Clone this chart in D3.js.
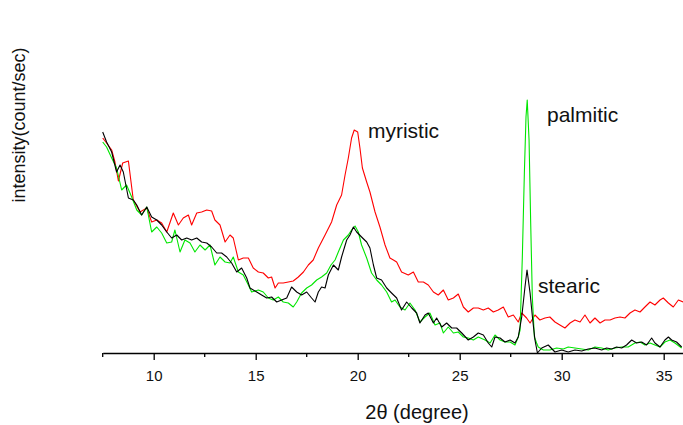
<!DOCTYPE html>
<html>
<meta charset="UTF-8">
    <head>
        <script src="https://d3js.org/d3.v7.min.js"></script>
        <style>
            body {
                margin: 0;
                background: white;
                font-family: Arial, "Liberation Sans", sans-serif;
            }
        </style>
    </head>
    <body>
    </body>
    <script>
        // 2theta (degree), intensity
        let myristic = [
            [7.50,215],[7.69,210],[7.94,203],[8.10,191],[8.27,172],[8.48,190],[8.76,192],[9.00,153],
            [9.33,141],[9.66,145],[9.90,131],[10.15,133],[10.39,130],[10.64,121],[10.96,140],[11.21,128],
            [11.45,135],[11.70,138],[11.86,128],[12.11,140],[12.35,141],[12.60,143],[12.84,142],[13.00,133],
            [13.25,128],[13.50,111],[13.74,118],[13.90,115],[14.15,93],[14.39,95],[14.64,95],[14.88,85],
            [15.13,81],[15.37,80],[15.62,75],[15.78,76],[15.95,65],[16.11,70],[16.35,70],[16.60,71],
            [16.84,72],[17.09,76],[17.34,81],[17.58,88],[17.82,93],[18.07,105],[18.40,118],[18.72,131],
            [18.97,148],[19.21,158],[19.38,178],[19.54,195],[19.70,215],[19.83,223],[20.00,221],[20.11,205],
            [20.23,185],[20.44,171],[20.60,161],[20.85,141],[21.09,126],[21.34,108],[21.58,95],[21.75,93],
            [21.91,91],[22.15,81],[22.48,78],[22.73,81],[22.97,71],[23.22,71],[23.46,68],[23.71,61],
            [23.95,58],[24.20,63],[24.44,53],[24.69,55],[24.93,59],[25.18,46],[25.42,41],[25.67,45],
            [25.91,45],[26.16,43],[26.40,45],[26.65,41],[26.89,43],[27.14,46],[27.38,36],[27.63,38],
            [27.87,31],[28.04,40],[28.28,35],[28.45,30],[28.69,38],[28.93,33],[29.18,35],[29.42,36],
            [29.67,31],[29.91,28],[30.16,25],[30.41,30],[30.65,33],[30.90,31],[31.14,38],[31.39,30],
            [31.63,35],[31.88,30],[32.12,33],[32.37,33],[32.61,35],[32.86,36],[33.10,35],[33.35,40],
            [33.59,43],[33.84,41],[34.08,46],[34.33,51],[34.57,48],[34.82,53],[34.98,55],[35.23,50],
            [35.47,46],[35.72,53],[35.95,51]
        ];

        let stearic = [
            [7.50,221],[7.69,211],[7.94,201],[8.18,181],[8.35,188],[8.51,181],[8.76,155],[9.00,153],
            [9.17,148],[9.41,138],[9.66,146],[9.90,136],[10.15,133],[10.39,128],[10.64,121],[10.88,115],
            [11.13,118],[11.37,113],[11.62,115],[11.86,113],[12.11,115],[12.35,111],[12.60,110],[12.84,106],
            [13.09,100],[13.33,100],[13.58,96],[13.82,90],[14.07,81],[14.31,85],[14.56,75],[14.72,65],
            [15.05,61],[15.29,58],[15.54,55],[15.78,56],[16.03,51],[16.27,53],[16.52,55],[16.76,66],
            [17.01,61],[17.25,58],[17.50,61],[17.74,55],[17.91,51],[18.07,61],[18.23,66],[18.40,65],
            [18.56,78],[18.81,88],[19.05,83],[19.21,96],[19.46,113],[19.62,118],[19.79,126],[19.95,121],
            [20.19,116],[20.44,111],[20.60,105],[20.77,88],[20.93,75],[21.17,73],[21.42,65],[21.66,60],
            [21.91,55],[22.15,43],[22.40,51],[22.65,45],[22.89,40],[23.05,30],[23.30,38],[23.46,40],
            [23.71,30],[23.87,35],[24.12,26],[24.36,30],[24.61,25],[24.85,25],[25.10,20],[25.42,13],
            [25.67,16],[25.91,20],[26.16,18],[26.40,10],[26.57,6],[26.73,16],[26.98,15],[27.22,11],
            [27.47,13],[27.71,10],[27.87,16],[28.04,36],[28.20,66],[28.30,83],[28.45,60],[28.58,33],
            [28.69,13],[28.81,0],[29.02,5],[29.34,8],[29.67,1],[30.00,3],[30.32,1],[30.65,3],
            [30.98,2],[31.30,4],[31.63,5],[31.96,3],[32.20,5],[32.45,4],[32.69,6],[32.94,5],
            [33.18,8],[33.43,13],[33.67,10],[33.92,11],[34.16,8],[34.41,15],[34.57,10],[34.82,6],
            [35.06,13],[35.23,16],[35.39,13],[35.63,11],[35.88,6]
        ];

        let palmitic = [
            [7.50,211],[7.69,206],[7.94,195],[8.18,185],[8.43,163],[8.67,168],[8.92,156],[9.17,143],
            [9.41,138],[9.66,146],[9.90,121],[10.15,126],[10.39,120],[10.64,110],[10.88,111],[11.04,123],
            [11.29,101],[11.53,113],[11.78,110],[12.02,101],[12.27,108],[12.52,103],[12.76,108],[13.00,88],
            [13.25,96],[13.50,91],[13.74,90],[13.90,96],[14.15,81],[14.39,78],[14.64,68],[14.80,61],
            [15.13,63],[15.37,61],[15.62,55],[15.86,53],[16.11,56],[16.35,51],[16.60,50],[16.84,46],
            [17.01,51],[17.25,60],[17.50,65],[17.74,68],[17.99,73],[18.23,76],[18.48,80],[18.69,88],
            [18.89,93],[19.05,101],[19.30,113],[19.54,118],[19.70,123],[19.87,127],[20.03,121],[20.19,108],
            [20.44,95],[20.68,80],[20.93,73],[21.17,68],[21.42,61],[21.66,51],[21.83,53],[22.07,46],
            [22.32,43],[22.56,50],[22.81,43],[23.05,31],[23.30,36],[23.54,40],[23.79,28],[24.03,30],
            [24.20,20],[24.44,26],[24.69,20],[24.93,21],[25.18,16],[25.42,15],[25.67,13],[25.91,16],
            [26.24,13],[26.49,10],[26.73,18],[26.98,13],[27.22,11],[27.47,11],[27.71,8],[27.87,16],
            [27.96,23],[28.07,96],[28.17,180],[28.25,236],[28.31,253],[28.40,213],[28.48,130],[28.56,56],
            [28.66,16],[28.77,10],[28.85,6],[29.10,3],[29.42,3],[29.75,5],[30.08,4],[30.32,6],
            [30.65,5],[30.98,4],[31.30,3],[31.63,6],[31.96,5],[32.28,3],[32.61,5],[32.94,6],
            [33.26,6],[33.59,10],[33.84,11],[34.08,8],[34.33,10],[34.57,8],[34.82,6],[35.06,11],
            [35.31,13],[35.55,10],[35.88,5]
        ];

        let majorTicks = [10, 15, 20, 25, 30, 35];
        let minorTicks = [7.5, 12.5, 17.5, 22.5, 27.5, 32.5];

        let labels = [
            {text: "myristic", x: 20.5, y: 215},
            {text: "palmitic", x: 29.28, y: 231},
            {text: "stearic", x: 28.84, y: 60}
        ];

        let svgwidth = 683;
        let svgheight = 425;

        let svg = d3.select("body").append("svg")
            .attr("width", svgwidth)
            .attr("height", svgheight);

        let x = d3.scaleLinear().domain([7.5, 36]).range([102.7, 684.1]);
        let y = d3.scaleLinear().domain([0, 280]).range([353, 73]);

        let line = d3.line()
            .x(d => x(d[0]))
            .y(d => y(d[1]));

        // red first, then green, black on top where they overlap
        let series = [
            {data: myristic, color: "#ff0000"},
            {data: palmitic, color: "#00e600"},
            {data: stearic, color: "#000000"}
        ];

        svg.append("g")
            .selectAll("path")
            .data(series)
            .join("path")
            .attr("fill", "none")
            .attr("stroke", d => d.color)
            .attr("stroke-width", 1.1)
            .attr("stroke-linejoin", "round")
            .attr("d", d => line(d.data));

        // x axis: major ticks with labels, minor ticks between them
        let axis = svg.append("g")
            .attr("transform", `translate(0, ${y(0)})`)
            .call(d3.axisBottom(x).tickValues(majorTicks).tickSize(7).tickSizeOuter(0).tickPadding(10));

        axis.select(".domain").attr("stroke-width", 1.6);
        axis.selectAll(".tick line").attr("stroke-width", 1.3);
        axis.selectAll(".tick text")
            .attr("font-family", "Arial, 'Liberation Sans', sans-serif")
            .attr("font-size", "15px")
            .attr("fill", "#111");

        svg.append("g")
            .attr("transform", `translate(0, ${y(0)})`)
            .selectAll("line")
            .data(minorTicks)
            .join("line")
            .attr("x1", d => x(d))
            .attr("x2", d => x(d))
            .attr("y1", 0)
            .attr("y2", 4)
            .attr("stroke", "black")
            .attr("stroke-width", 1.3);

        // axis titles
        svg.append("text")
            .attr("x", 417)
            .attr("y", 419)
            .attr("text-anchor", "middle")
            .attr("font-size", "20px")
            .attr("fill", "#111")
            .text("2θ (degree)");

        svg.append("text")
            .attr("transform", "translate(25, 125) rotate(-90)")
            .attr("text-anchor", "middle")
            .attr("font-size", "18px")
            .attr("fill", "#111")
            .text("intensity(count/sec)");

        // peak labels
        svg.append("g")
            .selectAll("text")
            .data(labels)
            .join("text")
            .attr("x", d => x(d.x))
            .attr("y", d => y(d.y))
            .attr("font-size", "21px")
            .attr("fill", "#111")
            .text(d => d.text);
    </script>
</html>
